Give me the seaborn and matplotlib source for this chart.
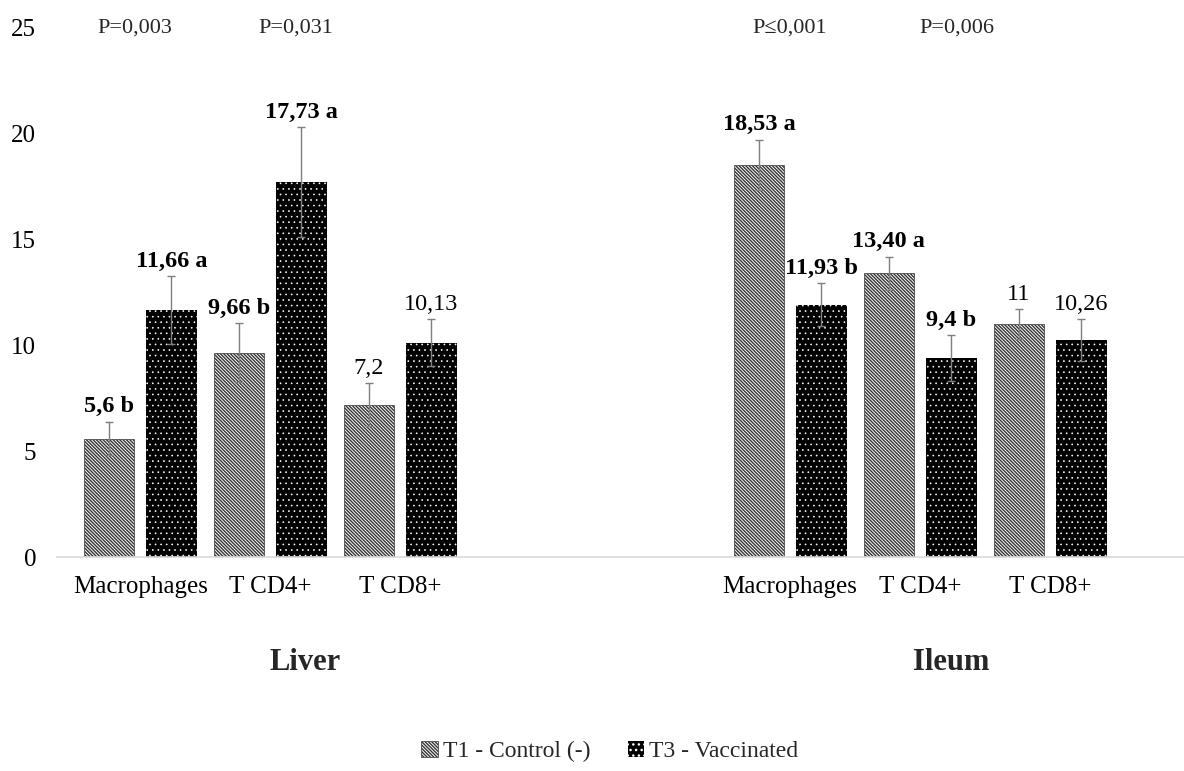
import numpy as np
import pandas as pd
import matplotlib
matplotlib.use("Agg")
import matplotlib.pyplot as plt
from matplotlib.patches import Patch
import seaborn as sns

# values
tissues = ["Liver", "Liver", "Liver", "Ileum", "Ileum", "Ileum"]
cells = ["Macrophages", "T CD4+", "T CD8+", "Macrophages", "T CD4+", "T CD8+"]
t1_means = [5.6, 9.66, 7.2, 18.53, 13.40, 11.0]
t3_means = [11.66, 17.73, 10.13, 11.93, 9.4, 10.26]
t1_err = [0.8, 1.4, 1.0, 1.2, 0.8, 0.7]
t3_err = [1.6, 2.6, 1.1, 1.0, 1.1, 1.0]
t1_text = ["5,6 b", "9,66 b", "7,2", "18,53 a", "13,40 a", "11"]
t3_text = ["11,66 a", "17,73 a", "10,13", "11,93 b", "9,4 b", "10,26"]
p_values = ["P=0,003", "P=0,031", "P\u22640,001", "P=0,006"]
p_x = [-0.04, 1.2, 5.0, 6.28]
group_names = ["Liver", "Ileum"]
group_x = [1.27, 6.24]
treatments = ["T1 - Control (-)", "T3 - Vaccinated"]

keys = [f"{t}|{c}" for t, c in zip(tissues, cells)]
order = keys[:3] + ["gap1", "gap2"] + keys[3:]

df = pd.DataFrame({
    "key": keys * 2,
    "treatment": [treatments[0]] * 6 + [treatments[1]] * 6,
    "value": t1_means + t3_means,
    "err": t1_err + t3_err,
    "text": t1_text + t3_text,
})

sns.set_theme(style="white")
plt.rcParams["font.family"] = ["Liberation Serif", "DejaVu Serif"]
plt.rcParams["hatch.linewidth"] = 1.0

fig = plt.figure(figsize=(11.84, 7.71), dpi=100)
ax = fig.add_axes([57 / 1184, 1 - 557 / 771, 1 - 57 / 1184, (557 - 28) / 771])

sns.barplot(data=df, x="key", y="value", hue="treatment", order=order,
            hue_order=treatments, width=0.96, gap=0.19, errorbar=None,
            legend=False, ax=ax)

styles = [
    dict(facecolor="white", edgecolor="#333333", hatch="\\" * 10, linewidth=0.5),
    dict(facecolor="black", edgecolor="white", hatch="...", linewidth=0),
]
hatch_lw = [1.0, 0.45]
lookup = {(order.index(r.key), r.treatment): r for r in df.itertuples()}


def style_patch(patch, st, hlw):
    patch.set_facecolor(st["facecolor"])
    patch.set_edgecolor(st["edgecolor"])
    patch.set_hatch(st["hatch"])
    patch.set_linewidth(st["linewidth"])
    if hasattr(patch, "set_hatch_linewidth"):
        patch.set_hatch_linewidth(hlw)


for container, tr, st, hlw in zip(ax.containers, treatments, styles, hatch_lw):
    for patch in container.patches:
        if np.isnan(patch.get_height()):
            continue
        style_patch(patch, st, hlw)
        xc = patch.get_x() + patch.get_width() / 2
        row = lookup[(int(round(xc)), tr)]
        ax.errorbar(xc, row.value, yerr=row.err, fmt="none", ecolor="#7f7f7f",
                    elinewidth=1.0, capsize=3, capthick=1.0, zorder=5)
        bold = row.text[-1] in "ab"
        ax.annotate(row.text, (xc, row.value + row.err), xytext=(0, 3),
                    textcoords="offset points", ha="center", va="bottom",
                    fontsize=17.5, fontweight="bold" if bold else "normal",
                    color="black")

ax.set_xlim(-0.64, 8.03)
ax.set_ylim(0, 25)
ax.set_yticks([0, 5, 10, 15, 20, 25])
ax.set_xticks([0, 1, 2, 5, 6, 7])
ax.set_xticklabels(cells)
ax.set_xlabel("")
ax.set_ylabel("")
ax.tick_params(axis="both", length=0, labelsize=18, colors="black")
ax.tick_params(axis="y", pad=15)
ax.tick_params(axis="x", pad=14)
for side in ["left", "right", "top"]:
    ax.spines[side].set_visible(False)
ax.spines["bottom"].set_color("#d9d9d9")
ax.spines["bottom"].set_linewidth(1.2)

for txt, xp in zip(p_values, p_x):
    ax.text(xp, 25, txt, ha="center", va="center", fontsize=16)

for name, xg in zip(group_names, group_x):
    ax.text(xg, -5.0, name, ha="center", va="center", fontsize=22,
            fontweight="bold")

handles = []
for st, hlw in zip(styles, hatch_lw):
    h = Patch()
    style_patch(h, st, hlw)
    handles.append(h)
fig.legend(handles, treatments, loc="center", bbox_to_anchor=(0.515, 0.025),
           ncol=2, frameon=False, fontsize=17, handlelength=0.7,
           handleheight=0.7, handletextpad=0.2, columnspacing=1.6)

fig.savefig("out.png", dpi=100)
